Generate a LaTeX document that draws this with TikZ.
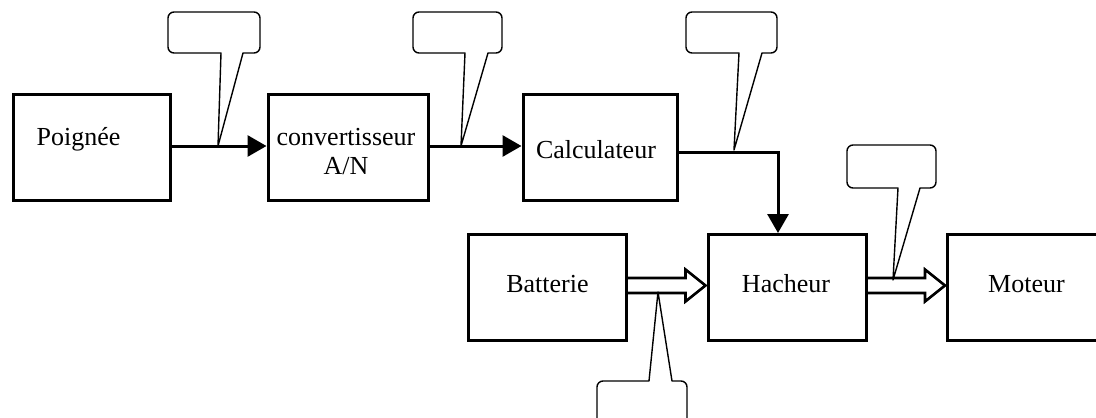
\documentclass[tikz,border=0pt]{standalone}
\usepackage{fontspec}
\setmainfont{Liberation Serif}
\usetikzlibrary{arrows.meta,calc}

\newcommand\boxfont{\fontsize{26}{29}\selectfont}

% hollow "power flow" arrow from #1 (start, on a box border) to #2 (tip)
\newcommand\powerarrow[2]{%
  \draw[power] ($(#1)+(0,-7.5)$) -- ($(#2)+(-20,-7.5)$) -- ($(#2)+(-20,-16)$)
    -- (#2) -- ($(#2)+(-20,16)$) -- ($(#2)+(-20,7.5)$) -- ($(#1)+(0,7.5)$);}

\tikzset{
  block/.style={draw, line width=3pt, minimum width=#1, minimum height=106pt,
                inner sep=0pt, font=\boxfont},
  boxtext/.style={font=\boxfont, align=center, inner sep=0pt},
  signal/.style={line width=3pt, -{Triangle[length=19pt,width=21pt]}},
  power/.style={line width=2.6pt, line join=miter},
  bubble/.style={draw, line width=1.4pt, fill=white, line join=round},
}

\begin{document}
\begin{tikzpicture}[x=1pt, y=-1pt]
  \useasboundingbox (0,0) rectangle (1096,418);
  \fill[white] (0,0) rectangle (1096,418);
  \clip (0,0) rectangle (1096,418);

  % blocks of the chain
  \node[block=157pt, label={[boxtext, xshift=-13.5pt, yshift=8.5pt]center:Poignée}]
    (poignee) at (92,147.5) {};
  \node[block=160pt, label={[boxtext, xshift=-2pt, yshift=-4.5pt]center:convertisseur\\A/N}]
    (conv) at (348,147.5) {};
  \node[block=154pt, label={[boxtext, xshift=-4pt, yshift=-2.5pt]center:Calculateur}]
    (calc) at (600,147.5) {};
  \node[block=158pt, label={[boxtext, yshift=3.5pt]center:Batterie}]
    (batt) at (547.5,287.5) {};
  \node[block=158pt, label={[boxtext, xshift=-1pt, yshift=3.5pt]center:Hacheur}]
    (hach) at (787,287.5) {};
  \node[block=158pt, label={[boxtext, yshift=3.5pt]center:Moteur}]
    (mot) at (1026.5,287.5) {};

  % information links
  \draw[signal] ([yshift=1.5pt]poignee.east) -- ([yshift=1.5pt]conv.west);
  \draw[signal] ([yshift=1.5pt]conv.east) -- ([yshift=1.5pt]calc.west);
  \draw[signal] ([yshift=-4.5pt]calc.east) -| ([xshift=-9pt]hach.north);

  % power links
  \coordinate (p1) at ([yshift=2pt]batt.east);
  \coordinate (p2) at ([xshift=-1pt, yshift=2pt]hach.west);
  \coordinate (p3) at ([yshift=2pt]hach.east);
  \coordinate (p4) at ([xshift=-1pt, yshift=2pt]mot.west);
  \powerarrow{p1}{p2}
  \powerarrow{p3}{p4}

  % empty callouts to be filled in
  \draw[bubble] (221,53) [rounded corners=6pt] -- (168,53) -- (168,12) -- (260,12)
    -- (260,53) [sharp corners] -- (243,53) -- (218,146) -- cycle;
  \draw[bubble] (465,53) [rounded corners=6pt] -- (413,53) -- (413,12) -- (502,12)
    -- (502,53) [sharp corners] -- (488,53) -- (461,146) -- cycle;
  \draw[bubble] (739,53) [rounded corners=6pt] -- (686,53) -- (686,12) -- (777,12)
    -- (777,53) [sharp corners] -- (762,53) -- (734,150) -- cycle;
  \draw[bubble] (898,188) [rounded corners=6pt] -- (847,188) -- (847,145) -- (936,145)
    -- (936,188) [sharp corners] -- (920,188) -- (893,280) -- cycle;
  \draw[bubble] (649,381) [rounded corners=6pt] -- (597,381) -- (597,440) -- (687,440)
    -- (687,381) [sharp corners] -- (672,381) -- (658,292) -- cycle;
\end{tikzpicture}
\end{document}
